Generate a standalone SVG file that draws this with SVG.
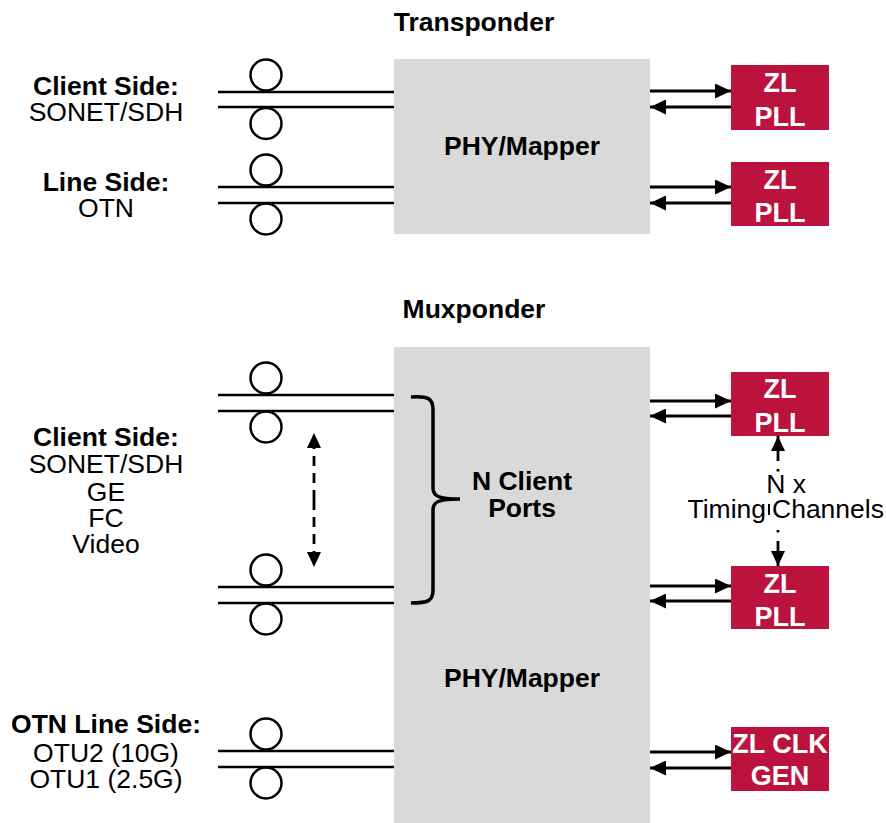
<svg xmlns="http://www.w3.org/2000/svg" width="886" height="823" viewBox="0 0 886 823">
<defs>
<style>
text{font-family:"Liberation Sans",Arial,sans-serif;font-size:26.5px;fill:#000;text-anchor:middle}
.b{font-weight:bold}
.w{fill:#fff;font-weight:bold;font-size:27px}
.phy{fill:#d9d9d9}
.pll{fill:#bb133e}
.fib{stroke:#000;stroke-width:2.5;fill:none}
.ar{stroke:#000;stroke-width:2.8;fill:none}
</style>
<marker id="ah" markerUnits="userSpaceOnUse" markerWidth="16" markerHeight="15" refX="16" refY="7.5" orient="auto">
<path d="M0,0 L16,7.5 L0,15 z" fill="#000"/>
</marker>
<marker id="ah2" markerUnits="userSpaceOnUse" markerWidth="15" markerHeight="14" refX="15" refY="7" orient="auto">
<path d="M0,0 L15,7 L0,14 z" fill="#000"/>
</marker>
</defs>
<rect width="886" height="823" fill="#fff"/>

<text class="b" x="474" y="31">Transponder</text>
<text class="b" x="474" y="318">Muxponder</text>

<g id="phy-top">
<rect class="phy" x="394" y="59" width="256" height="175"/>
<text class="b" x="522" y="155">PHY/Mapper</text>
</g>
<g id="phy-mux">
<rect class="phy" x="394" y="347" width="256" height="476"/>
<text class="b" x="522" y="687">PHY/Mapper</text>
<path d="M411,397 C428,396 433,398 433,410 L433,488 C433,496 438,499 460,499 C438,499 433,502 433,510 L433,590 C433,601 428,603 411,603" stroke="#000" stroke-width="3.5" fill="none"/>
<text class="b" x="522" y="490">N Client</text>
<text class="b" x="522" y="517">Ports</text>
</g>

<g id="label-client-top">
<text class="b" x="106" y="95">Client Side:</text>
<text x="106" y="121">SONET/SDH</text>
</g>
<g id="label-line-top">
<text class="b" x="106" y="191">Line Side:</text>
<text x="106" y="217">OTN</text>
</g>
<g id="label-client-mux">
<text class="b" x="106" y="446">Client Side:</text>
<text x="106" y="473">SONET/SDH</text>
<text x="106" y="501">GE</text>
<text x="106" y="527">FC</text>
<text x="106" y="553">Video</text>
</g>
<g id="label-otn-mux">
<text class="b" x="106" y="733">OTN Line Side:</text>
<text x="106" y="762">OTU2 (10G)</text>
<text x="106" y="788">OTU1 (2.5G)</text>
</g>

<g id="fiber-client-top" class="fib">
<line x1="218" y1="92" x2="394" y2="92"/><line x1="218" y1="107" x2="394" y2="107"/>
<circle cx="266" cy="75" r="15.5"/><circle cx="266" cy="123.5" r="15.5"/>
</g>
<g id="fiber-line-top" class="fib">
<line x1="218" y1="187" x2="394" y2="187"/><line x1="218" y1="203" x2="394" y2="203"/>
<circle cx="266" cy="170" r="15.5"/><circle cx="266" cy="219" r="15.5"/>
</g>
<g id="fiber-client-mux-1" class="fib">
<line x1="218" y1="395" x2="394" y2="395"/><line x1="218" y1="411" x2="394" y2="411"/>
<circle cx="266" cy="378" r="15.5"/><circle cx="266" cy="427" r="15.5"/>
</g>
<g id="fiber-client-mux-n" class="fib">
<line x1="218" y1="587" x2="394" y2="587"/><line x1="218" y1="603" x2="394" y2="603"/>
<circle cx="266" cy="570" r="15.5"/><circle cx="266" cy="619" r="15.5"/>
</g>
<g id="fiber-otn-mux" class="fib">
<line x1="218" y1="751" x2="394" y2="751"/><line x1="218" y1="767" x2="394" y2="767"/>
<circle cx="266" cy="734" r="15.5"/><circle cx="266" cy="783" r="15.5"/>
</g>

<g id="pll-1">
<rect class="pll" x="731" y="65" width="98" height="65"/>
<text class="w" x="780" y="92">ZL</text><text class="w" x="780" y="126">PLL</text>
</g>
<g id="pll-2">
<rect class="pll" x="731" y="162" width="98" height="64"/>
<text class="w" x="780" y="189">ZL</text><text class="w" x="780" y="222">PLL</text>
</g>
<g id="pll-3">
<rect class="pll" x="731" y="372" width="98" height="64"/>
<text class="w" x="780" y="398">ZL</text><text class="w" x="780" y="432">PLL</text>
</g>
<g id="pll-4">
<rect class="pll" x="731" y="566" width="98" height="63"/>
<text class="w" x="780" y="593">ZL</text><text class="w" x="780" y="626">PLL</text>
</g>
<g id="clkgen">
<rect class="pll" x="731" y="727" width="98" height="64"/>
<text class="w" x="780" y="753">ZL CLK</text><text class="w" x="780" y="785">GEN</text>
</g>

<g id="timing-label">
<text x="786" y="493">N x</text>
<text x="766" y="518" style="text-anchor:end">Timing</text>
<text x="772" y="518" style="text-anchor:start">Channels</text>
</g>

<g id="connectors" class="ar">
<line x1="650" y1="91" x2="731" y2="91" marker-end="url(#ah)"/>
<line x1="731" y1="107" x2="650" y2="107" marker-end="url(#ah)"/>
<line x1="650" y1="187" x2="731" y2="187" marker-end="url(#ah)"/>
<line x1="731" y1="203" x2="650" y2="203" marker-end="url(#ah)"/>
<line x1="650" y1="401" x2="731" y2="401" marker-end="url(#ah)"/>
<line x1="731" y1="416" x2="650" y2="416" marker-end="url(#ah)"/>
<line x1="650" y1="586" x2="731" y2="586" marker-end="url(#ah)"/>
<line x1="731" y1="601" x2="650" y2="601" marker-end="url(#ah)"/>
<line x1="650" y1="752" x2="731" y2="752" marker-end="url(#ah)"/>
<line x1="731" y1="768" x2="650" y2="768" marker-end="url(#ah)"/>
<line x1="314" y1="500" x2="314" y2="433" stroke-dasharray="10,7" marker-end="url(#ah2)"/>
<line x1="314" y1="500" x2="314" y2="567" stroke-dasharray="10,7" marker-end="url(#ah2)"/>
<line x1="778" y1="461" x2="778" y2="436" marker-end="url(#ah2)"/>
<line x1="778" y1="469" x2="778" y2="471.5"/>
<line x1="769" y1="504" x2="769" y2="515" stroke-width="2"/>
<line x1="778" y1="530" x2="778" y2="532.5"/>
<line x1="778" y1="541" x2="778" y2="566" marker-end="url(#ah2)"/>
</g>
</svg>
